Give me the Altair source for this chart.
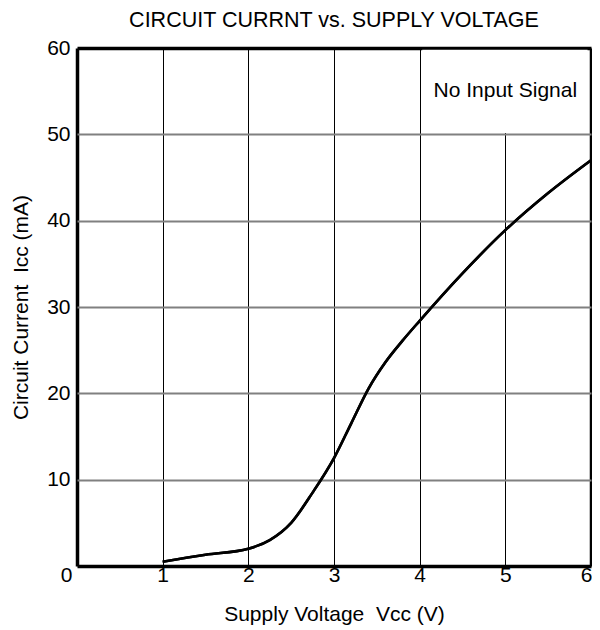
import altair as alt
import pandas as pd

# Data
voltage = [1.0, 1.5, 2.0, 2.25, 2.5, 2.75, 3.0, 3.2, 3.4, 3.6, 3.8, 4.0, 4.5, 5.0, 5.5, 6.0]
current = [0.5, 1.3, 2.0, 3.0, 5.0, 8.5, 12.5, 16.5, 20.5, 23.6, 26.1, 28.4, 33.9, 38.9, 43.2, 47.0]
x_ticks = [0, 1, 2, 3, 4, 5, 6]
y_ticks = [0, 10, 20, 30, 40, 50, 60]
note_text = ["No Input Signal"]
note_x = [5.0]
note_y = [55.0]
box_x = [4.03]
box_x2 = [5.96]
box_y = [50.15]
box_y2 = [59.8]

FONT = "Liberation Sans"

df = pd.DataFrame({"v": voltage, "i": current})
box = pd.DataFrame({"x": box_x, "x2": box_x2, "y": box_y, "y2": box_y2})
note = pd.DataFrame({"x": note_x, "y": note_y, "label": note_text})

xs = alt.Scale(domain=[0, 6], nice=False, zero=False)
ys = alt.Scale(domain=[0, 60], nice=False)

x_axis = alt.Axis(
    values=x_ticks,
    format="d",
    title="Supply Voltage\u00a0\u00a0Vcc (V)",
    grid=True,
    gridColor="black",
    gridWidth={"condition": {"test": "datum.value == 0 || datum.value == 6", "value": 3.5}, "value": 1},
    gridOpacity=1,
    domain=False, ticks=False,
    labelFont=FONT, labelFontSize=21, labelColor="black", labelPadding=-2,
    labelOffset={"condition": [{"test": "datum.value == 0", "value": -11},
                               {"test": "datum.value == 6", "value": -5}], "value": 0},
    labelFlush=False,
    titleFont=FONT, titleFontSize=21, titleFontWeight="normal", titleColor="black",
    titlePadding=18,
)
y_axis = alt.Axis(
    values=y_ticks,
    format="d",
    labelExpr="datum.value == 0 ? '' : datum.label",
    title="Circuit Current\u00a0\u00a0Icc (mA)",
    grid=True,
    gridColor={"condition": {"test": "datum.value == 60 || datum.value == 0", "value": "black"},
               "value": "#808080"},
    gridWidth={"condition": {"test": "datum.value == 60 || datum.value == 0", "value": 3.5},
               "value": 2},
    gridOpacity=1,
    domain=False, ticks=False,
    labelFont=FONT, labelFontSize=21, labelColor="black", labelPadding=7,
    labelFlush=False,
    titleFont=FONT, titleFontSize=21, titleFontWeight="normal", titleColor="black",
    titlePadding=15.5,
)

base_line = alt.Chart(df).mark_line(
    color="black", strokeWidth=2.6, interpolate="monotone"
).encode(
    x=alt.X("v:Q", scale=xs, axis=x_axis),
    y=alt.Y("i:Q", scale=ys, axis=y_axis),
)

rect = alt.Chart(box).mark_rect(color="white", opacity=1).encode(
    x=alt.X("x:Q", scale=xs), x2="x2:Q",
    y=alt.Y("y:Q", scale=ys), y2="y2:Q",
)

txt = alt.Chart(note).mark_text(
    font=FONT, fontSize=21, color="black", align="center", baseline="middle"
).encode(
    x=alt.X("x:Q", scale=xs), y=alt.Y("y:Q", scale=ys), text="label:N"
)

chart = alt.layer(base_line, rect, txt, base_line).properties(
    width=514,
    height=518,
    title=alt.TitleParams(
        "CIRCUIT CURRNT vs. SUPPLY VOLTAGE",
        font=FONT, fontSize=21.5, fontWeight="normal", color="black",
        anchor="middle", offset=6,
    ),
    autosize=alt.AutoSizeParams(type="none"),
    padding={"left": 69, "top": 40, "right": 1, "bottom": 60},
).configure_view(
    stroke="black", strokeWidth=3.5
).configure(background="white")

chart.save("out.html", embed_options={"renderer": "svg", "actions": False})
